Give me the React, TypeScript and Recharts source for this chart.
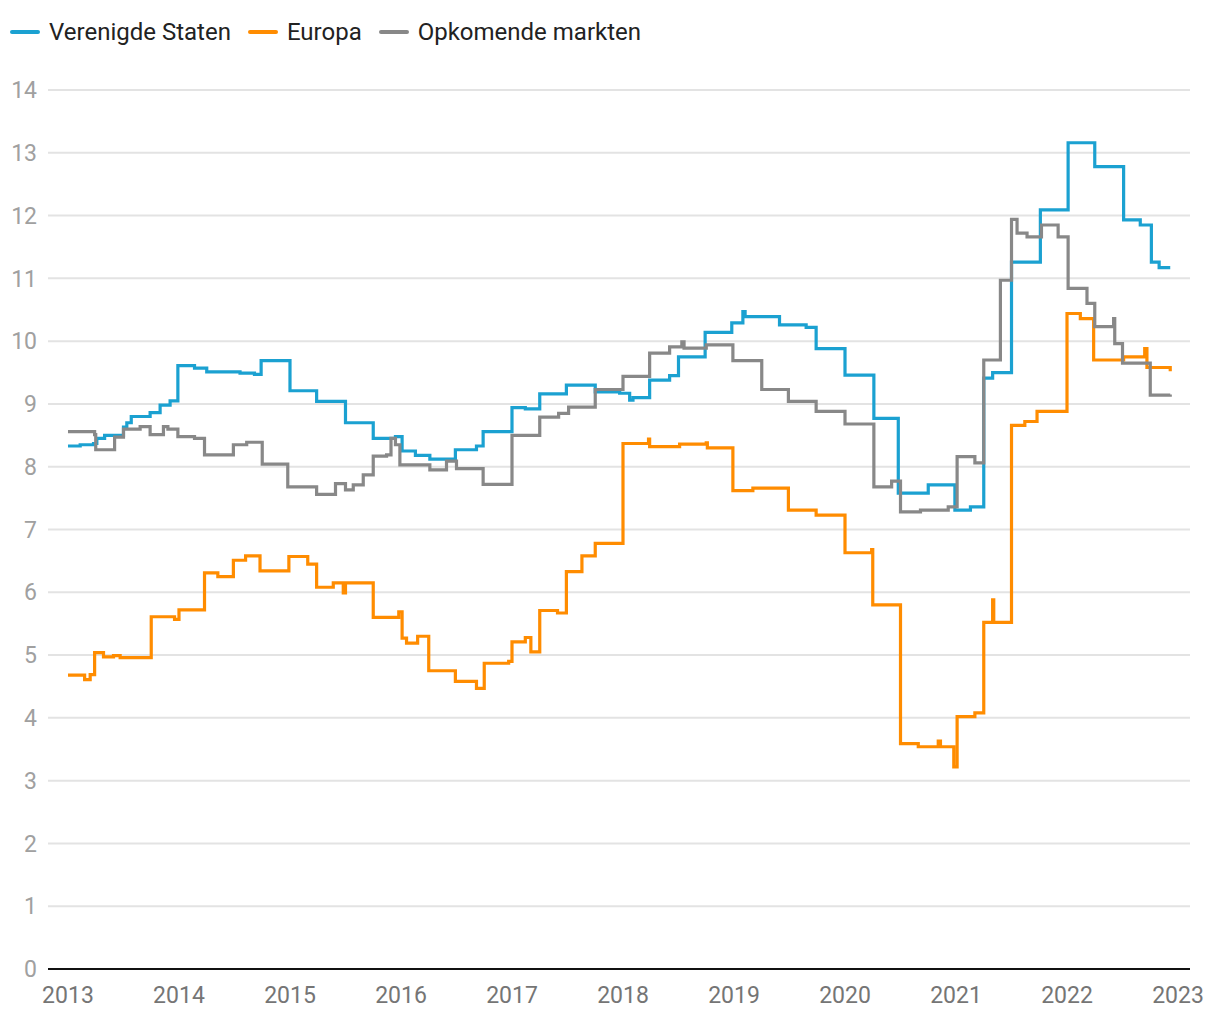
import { LineChart, Line, XAxis, YAxis, CartesianGrid } from "recharts";

// [year, value] step points
const usPoints: [number, number][] = [
  [2013.0, 8.33], [2013.11, 8.35], [2013.23, 8.37], [2013.26, 8.45], [2013.33, 8.5],
  [2013.5, 8.63], [2013.53, 8.7], [2013.57, 8.8], [2013.74, 8.86], [2013.83, 8.98],
  [2013.92, 9.05], [2013.99, 9.61], [2014.14, 9.57], [2014.25, 9.51], [2014.55, 9.49],
  [2014.68, 9.47], [2014.74, 9.69], [2015.0, 9.21], [2015.24, 9.04], [2015.5, 8.7],
  [2015.75, 8.45], [2015.95, 8.48], [2016.01, 8.25], [2016.13, 8.18], [2016.26, 8.12],
  [2016.49, 8.27], [2016.68, 8.33], [2016.74, 8.56], [2017.0, 8.94], [2017.12, 8.92],
  [2017.25, 9.16], [2017.49, 9.3], [2017.75, 9.19], [2017.97, 9.17], [2018.06, 9.06],
  [2018.09, 9.1], [2018.24, 9.38], [2018.42, 9.45], [2018.5, 9.75], [2018.74, 10.14],
  [2018.98, 10.29], [2019.08, 10.47], [2019.1, 10.39], [2019.41, 10.26], [2019.65, 10.22],
  [2019.74, 9.88], [2020.0, 9.46], [2020.26, 8.77], [2020.48, 7.58], [2020.75, 7.71],
  [2020.99, 7.31], [2021.13, 7.36], [2021.25, 9.41], [2021.33, 9.5], [2021.5, 11.26],
  [2021.76, 12.09], [2022.01, 13.16], [2022.25, 12.78], [2022.51, 11.93], [2022.66, 11.85],
  [2022.76, 11.26], [2022.83, 11.17], [2022.93, 11.17],
];

const euPoints: [number, number][] = [
  [2013.0, 4.68], [2013.15, 4.61], [2013.2, 4.69], [2013.24, 5.04], [2013.32, 4.97],
  [2013.41, 4.99], [2013.47, 4.96], [2013.75, 5.61], [2013.96, 5.57], [2014.0, 5.72],
  [2014.23, 6.31], [2014.35, 6.25], [2014.49, 6.51], [2014.6, 6.58], [2014.73, 6.34],
  [2014.99, 6.57], [2015.16, 6.45], [2015.24, 6.08], [2015.39, 6.15], [2015.48, 5.99],
  [2015.5, 6.15], [2015.75, 5.6], [2015.98, 5.69], [2016.01, 5.27], [2016.05, 5.19],
  [2016.15, 5.3], [2016.25, 4.75], [2016.49, 4.58], [2016.68, 4.47], [2016.75, 4.87],
  [2016.97, 4.9], [2017.0, 5.21], [2017.12, 5.28], [2017.17, 5.05], [2017.25, 5.71],
  [2017.41, 5.67], [2017.49, 6.33], [2017.63, 6.58], [2017.75, 6.78], [2018.0, 8.37],
  [2018.23, 8.44], [2018.24, 8.32], [2018.51, 8.36], [2018.75, 8.38], [2018.76, 8.3],
  [2018.99, 7.62], [2019.17, 7.66], [2019.49, 7.31], [2019.74, 7.23], [2020.0, 6.63],
  [2020.24, 6.68], [2020.25, 5.8], [2020.5, 3.59], [2020.66, 3.54], [2020.84, 3.63],
  [2020.86, 3.54], [2020.98, 3.22], [2021.01, 4.02], [2021.17, 4.08], [2021.25, 5.52],
  [2021.33, 5.88], [2021.34, 5.52], [2021.5, 8.66], [2021.62, 8.72], [2021.73, 8.88],
  [2022.0, 10.44], [2022.12, 10.36], [2022.24, 9.7], [2022.51, 9.75], [2022.7, 9.88],
  [2022.72, 9.58], [2022.93, 9.52],
];

const emPoints: [number, number][] = [
  [2013.0, 8.56], [2013.24, 8.51], [2013.25, 8.27], [2013.42, 8.47], [2013.5, 8.6],
  [2013.65, 8.64], [2013.74, 8.51], [2013.86, 8.64], [2013.9, 8.6], [2013.99, 8.48],
  [2014.14, 8.45], [2014.23, 8.19], [2014.49, 8.35], [2014.61, 8.39], [2014.75, 8.04],
  [2014.98, 7.68], [2015.24, 7.56], [2015.41, 7.73], [2015.5, 7.63], [2015.57, 7.71],
  [2015.66, 7.87], [2015.75, 8.17], [2015.87, 8.19], [2015.91, 8.45], [2015.95, 8.35],
  [2015.99, 8.03], [2016.26, 7.95], [2016.41, 8.09], [2016.5, 7.97], [2016.74, 7.72],
  [2017.0, 8.5], [2017.25, 8.79], [2017.42, 8.85], [2017.51, 8.95], [2017.75, 9.23],
  [2018.0, 9.44], [2018.24, 9.81], [2018.42, 9.91], [2018.53, 9.99], [2018.55, 9.89],
  [2018.75, 9.94], [2018.99, 9.69], [2019.25, 9.23], [2019.49, 9.04], [2019.74, 8.88],
  [2020.0, 8.68], [2020.26, 7.68], [2020.42, 7.77], [2020.5, 7.28], [2020.68, 7.31],
  [2020.93, 7.36], [2021.01, 8.16], [2021.17, 8.06], [2021.25, 9.7], [2021.4, 10.97],
  [2021.5, 11.94], [2021.55, 11.72], [2021.64, 11.66], [2021.77, 11.85], [2021.92, 11.66],
  [2022.01, 10.84], [2022.18, 10.6], [2022.25, 10.23], [2022.42, 10.36], [2022.43, 9.96],
  [2022.5, 9.65], [2022.75, 9.14], [2022.93, 9.15],
];

const yearTicks = [2013, 2014, 2015, 2016, 2017, 2018, 2019, 2020, 2021, 2022, 2023];
const valueTicks = [0, 1, 2, 3, 4, 5, 6, 7, 8, 9, 10, 11, 12, 13, 14];

const series = [
  { name: "Verenigde Staten", color: "#1ba1d1", points: usPoints },
  { name: "Europa", color: "#ff8c00", points: euPoints },
  { name: "Opkomende markten", color: "#888888", points: emPoints },
];

const toRows = (pts: [number, number][]) => pts.map(([t, v]) => ({ t, v }));

export default function App() {
  return (
    <div style={{ fontFamily: "Roboto, sans-serif", width: 1204 }}>
      <div style={{ display: "flex", alignItems: "center", height: 48, paddingLeft: 2 }}>
        {series.map((s) => (
          <div key={s.name} style={{ display: "flex", alignItems: "center", marginRight: 17 }}>
            <span
              style={{
                display: "inline-block",
                width: 30,
                height: 4,
                borderRadius: 2,
                background: s.color,
                marginRight: 9,
              }}
            />
            <span style={{ fontSize: 24, color: "#222" }}>{s.name}</span>
          </div>
        ))}
      </div>

      <LineChart width={1204} height={956} margin={{ top: 34, right: 22, bottom: 0, left: 0 }}>
        <CartesianGrid vertical={false} stroke="#e3e3e3" strokeWidth={2} />
        <XAxis
          type="number"
          dataKey="t"
          domain={[2012.82, 2023.108]}
          ticks={yearTicks}
          allowDataOverflow
          height={43}
          tickLine={false}
          tickSize={0}
          tickMargin={18}
          axisLine={{ stroke: "#111", strokeWidth: 2 }}
          tick={{ fill: "#757575", fontSize: 23 }}
        />
        <YAxis
          type="number"
          domain={[0, 14]}
          ticks={valueTicks}
          width={40}
          axisLine={false}
          tickLine={false}
          tickSize={0}
          tickMargin={11}
          tick={{ fill: "#a0a0a0", fontSize: 23 }}
        />
        {series.map((s) => (
          <Line
            key={s.name}
            data={toRows(s.points)}
            dataKey="v"
            type="stepAfter"
            stroke={s.color}
            strokeWidth={3.2}
            dot={false}
            isAnimationActive={false}
          />
        ))}
      </LineChart>
    </div>
  );
}
